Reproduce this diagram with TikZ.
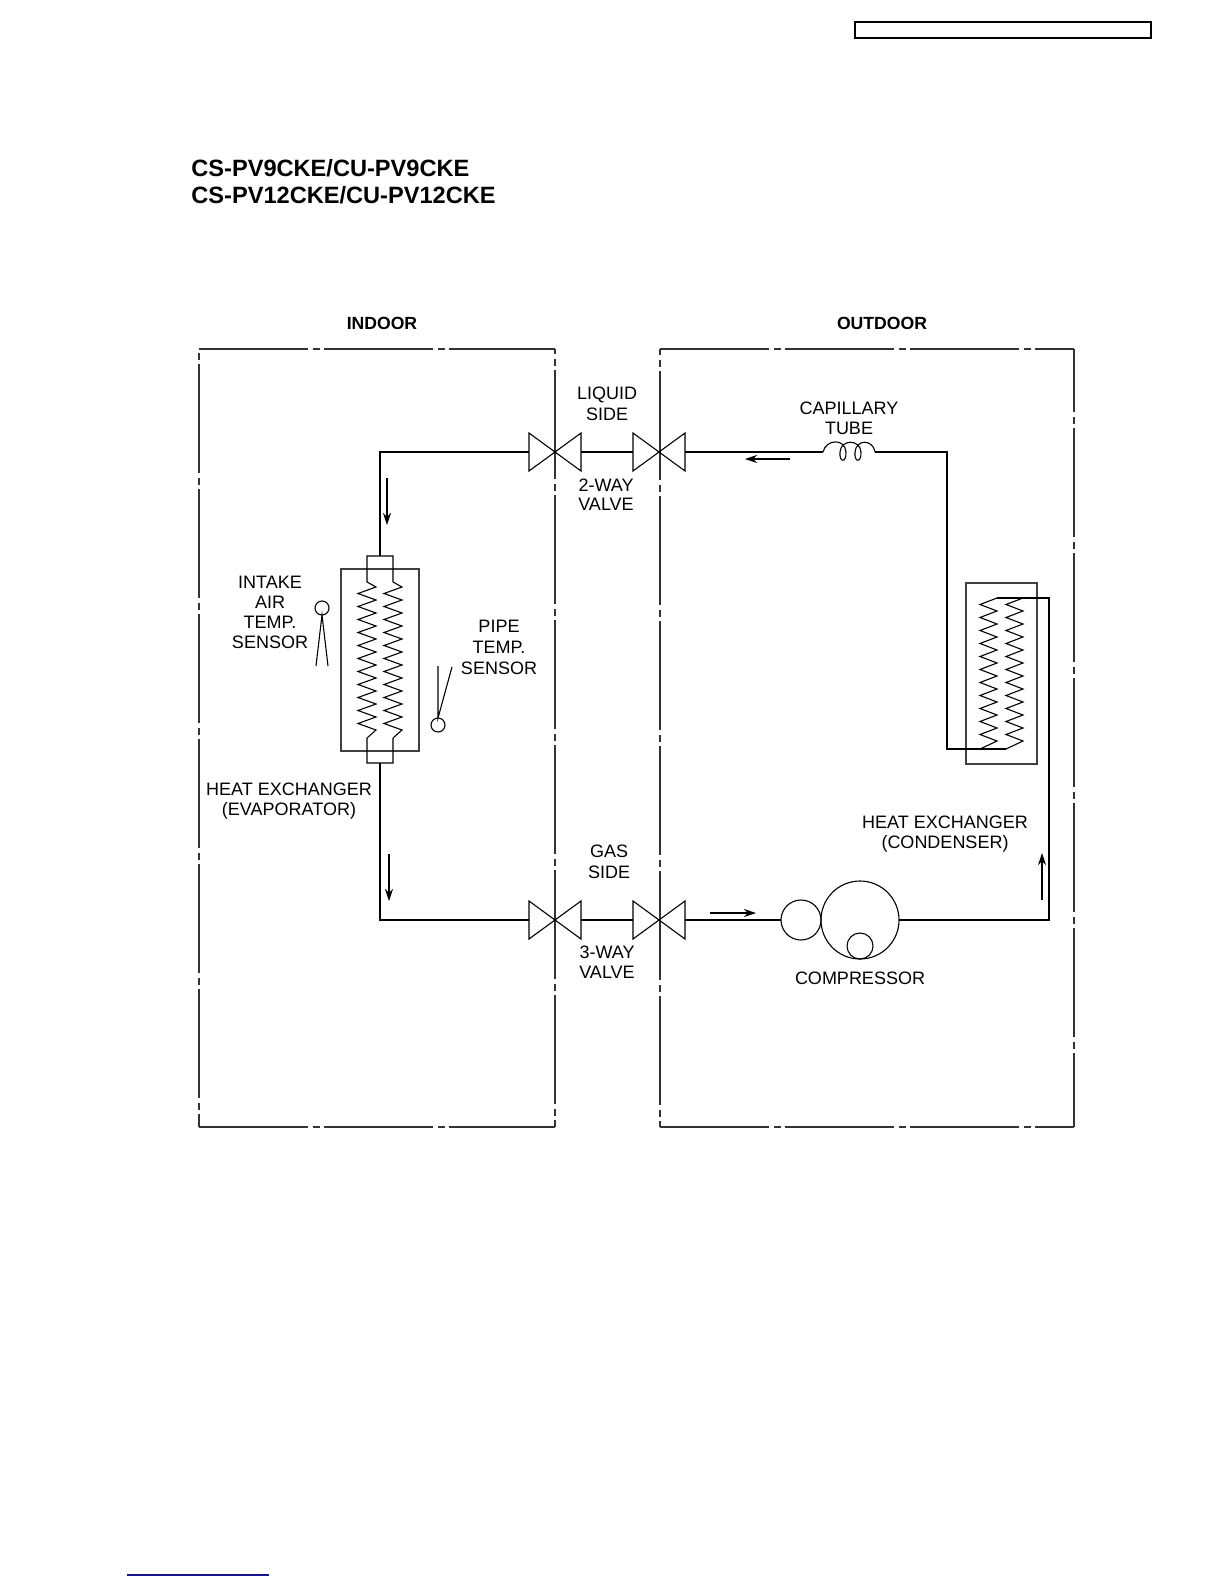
\documentclass[tikz,border=0pt]{standalone}
\usepackage{fontspec}
\setmainfont{Liberation Sans}
\usetikzlibrary{positioning,arrows.meta}
\tikzset{
        lbl/.style={align=center, inner sep=0pt, font=\fontsize{9bp}{10bp}\selectfont},
        lblb/.style={inner sep=0pt, font=\fontsize{8.8bp}{10bp}\selectfont\bfseries},
        ttl/.style={anchor=base west, inner sep=0pt, font=\fontsize{11.8bp}{13.5bp}\selectfont\bfseries},
        pipe/.style={line width=.55bp, line join=miter},
        zone/.style={line width=.6bp, black!80, dash pattern=on 54.5bp off 2.5bp on 3.5bp off 2bp},
        flow/.style={line width=.55bp, -{Stealth[length=6bp,width=4bp]}},
        valve/.style={minimum width=26bp, minimum height=19bp, inner sep=0pt, outer sep=0pt},
        shell/.style={draw, black!75, line width=.65bp, inner sep=0pt, outer sep=0pt},
        bulb/.style={draw, circle, line width=.55bp, inner sep=0pt, outer sep=0pt}
}
\begin{document}
\begin{tikzpicture}[x=.5bp, y=-.5bp, node distance=26bp]
        \useasboundingbox (0,0) rectangle (1224,1584);

        \draw[line width=.65bp] (855,22) rectangle (1151,38);
        \node[ttl] (t1) at (191,176) {CS-PV9CKE/CU-PV9CKE};
        \node[ttl] (t2) at (191,203) {CS-PV12CKE/CU-PV12CKE};

        \node[lblb] (indoor) at (382,323) {INDOOR};
        \node[lblb] (outdoor) at (882,323) {OUTDOOR};

        \coordinate (inTL) at (199,349);
        \coordinate (inTR) at (555,349);
        \coordinate (inBL) at (199,1127);
        \coordinate (inBR) at (555,1127);
        \coordinate (outTL) at (660,349);
        \coordinate (outTR) at (1074,349);
        \coordinate (outBL) at (660,1127);
        \coordinate (outBR) at (1074,1127);

        \draw[zone] (inTL) -- (inTR);
        \draw[zone] (inBL) -- (inBR);
        \draw[zone, dash phase=55bp] (inTL) -- (inBL);
        \draw[zone, dash phase=52bp] (inTR) -- (inBR);
        \draw[zone] (outTL) -- (outTR);
        \draw[zone] (outBL) -- (outBR);
        \draw[zone, dash phase=51.5bp] (outTL) -- (outBL);
        \draw[zone, dash phase=23bp] (outTR) -- (outBR);

        \node[valve] (vLa) at (555,452) {};
        \node[valve, right=of vLa] (vLb) {};
        \node[valve] (vGa) at (555,920) {};
        \node[valve, right=of vGa] (vGb) {};
        \foreach \v in {vLa,vLb,vGa,vGb}
                \draw[pipe] (\v.north west) -- (\v.south east) -- (\v.north east) -- (\v.south west) -- cycle;

        \node[lbl] (liquid) at (607,403.5) {LIQUID\\[.5bp]SIDE};
        \node[lbl] (way2) at (606,495) {2-WAY\\[-.5bp]VALVE};
        \node[lbl] (gas) at (609,862) {GAS\\[.5bp]SIDE};
        \node[lbl] (way3) at (607,962) {3-WAY\\VALVE};

        \node[bulb, minimum size=20bp, right=48bp of vGb] (accu) {};
        \node[bulb, minimum size=39bp, right=0pt of accu] (comp) {};
        \node[bulb, minimum size=13bp, anchor=south] (sump) at (comp.south) {};
        \node[lbl] (complbl) at (860,978) {COMPRESSOR};

        \node[inner sep=0pt, outer sep=0pt, minimum width=26bp] (cap) at (849,452) {};
        \draw[pipe] (cap.west) .. controls (826,439) and (845,438) .. (846,452)
                .. controls (846.5,463) and (839,463) .. (840,452)
                .. controls (841,439) and (860,439) .. (861,452)
                .. controls (861.5,463) and (854,463) .. (855,452)
                .. controls (856,439) and (873,439) .. (cap.east);
        \node[lbl] (caplbl) at (849,418) {CAPILLARY\\TUBE};

        \node[shell, minimum width=39bp, minimum height=91bp] (evap) at (380,660) {};
        \node[inner sep=0pt, outer sep=0pt, minimum width=13bp, minimum height=103.5bp] (evHdr) at (380,659.5) {};
        \draw[pipe] (367,582) -- (evHdr.north west) -- (evHdr.north east) -- (393,582);
        \draw[pipe] (367,738) -- (evHdr.south west) -- (evHdr.south east) -- (393,738);
        \foreach \xc in {367,393}
                \draw[pipe] (\xc,582) -- ({\xc+9},587)
                        foreach \i in {1,...,11} { -- ({\xc-9},{580.5+13*\i}) -- ({\xc+9},{587+13*\i}) }
                        -- (\xc,738);

        \node[shell, minimum width=35.5bp, minimum height=90.5bp] (cond) at (1001.5,673.5) {};
        \coordinate (cdIn) at (1049,598);
        \coordinate (cdA) at (997,598);
        \coordinate (cdB) at (1023,598);
        \coordinate (cdOut) at (947,749);
        \coordinate (cdEnd) at (1006,749);
        \draw[pipe] (cdA) foreach \i in {0,...,10} { -- (980,{604.5+13*\i}) -- (997,{611+13*\i}) } -- (980,749);
        \draw[pipe] (cdB) foreach \i in {0,...,10} { -- (1006,{604.5+13*\i}) -- (1023,{611+13*\i}) } -- (cdEnd);

        \draw[pipe] (vLa.west) -| (evHdr.north);
        \draw[pipe] (vLa.east) -- (vLb.west);
        \draw[pipe] (vLb.east) -- (cap.west);
        \draw[pipe] (cap.east) -| (cdOut) -- (cdEnd);
        \draw[pipe] (vGa.west) -| (evHdr.south);
        \draw[pipe] (vGa.east) -- (vGb.west);
        \draw[pipe] (vGb.east) -- (accu.west);
        \draw[pipe] (comp.east) -| (cdIn) -- (cdA);

        \coordinate (f1a) at (387,478);
        \coordinate (f1b) at (387,525);
        \coordinate (f2a) at (389,854);
        \coordinate (f2b) at (389,901);
        \coordinate (f3a) at (790,459);
        \coordinate (f3b) at (745,459);
        \coordinate (f4a) at (710,913);
        \coordinate (f4b) at (756,913);
        \coordinate (f5a) at (1042,900);
        \coordinate (f5b) at (1042,853);
        \foreach \n in {1,...,5}
                \draw[flow] (f\n a) -- (f\n b);

        \node[bulb, minimum size=7bp] (senAir) at (322,608) {};
        \coordinate (airL) at (316,666);
        \coordinate (airR) at (328,666);
        \draw[pipe] (airL) -- (senAir.south) -- (airR);
        \node[lbl] (airlbl) at (270,612) {INTAKE\\AIR\\TEMP.\\SENSOR};

        \node[bulb, minimum size=7bp] (senPipe) at (438,725) {};
        \coordinate (pipeL) at (438,666);
        \coordinate (pipeR) at (452,667);
        \draw[pipe] (pipeL) -- (senPipe.north) -- (pipeR);
        \node[lbl] (pipelbl) at (499,647) {PIPE\\[.5bp]TEMP.\\[.5bp]SENSOR};

        \node[lbl] (evlbl) at (289,801) {HEAT EXCHANGER\\(EVAPORATOR)};
        \node[lbl] (cdlbl) at (945,834) {HEAT EXCHANGER\\(CONDENSER)};

        \definecolor{linkblue}{RGB}{20,20,140}
        \draw[line width=.6bp, linkblue] (127,1575) -- (269,1575);
\end{tikzpicture}
\end{document}
